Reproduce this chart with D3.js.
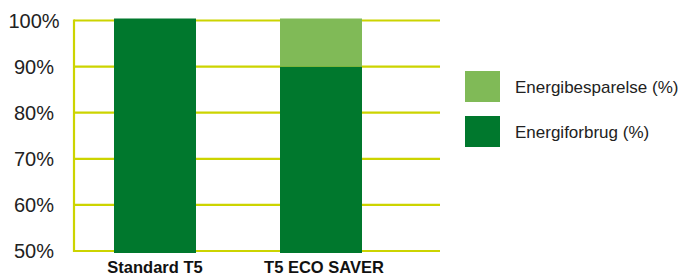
<!DOCTYPE html>
<html>
<head>
<meta charset="utf-8">
<script src="https://cdn.jsdelivr.net/npm/d3@7"></script>
<style>
  body { margin: 0; background: #fff; }
  svg { display: block; font-family: "Liberation Sans", Arial, sans-serif; }
</style>
</head>
<body>
<div id="content"></div>
<script>
const categories = ['Standard T5', 'T5 ECO SAVER'];
const consumption = [100, 90];
const savings = [0, 10];
const ticks = [50, 60, 70, 80, 90, 100];
const seriesNames = ['Energibesparelse (%)', 'Energiforbrug (%)'];

const width = 687;
const height = 275;
const darkGreen = '#00782d';
const lightGreen = '#80ba57';
const gridColor = '#ccd400';

const fig = d3.select('#content')
    .append('svg')
    .attr('width', width)
    .attr('height', height);

const y = d3.scaleLinear()
    .domain([50, 100])
    .range([251, 20.5]);

const barW = 82;
const xc = d3.scaleOrdinal().domain(categories).range([155, 321]);

// gridlines
fig.append('g')
    .selectAll('line')
    .data(ticks)
    .join('line')
    .attr('x1', 74)
    .attr('x2', 440)
    .attr('y1', (d) => y(d))
    .attr('y2', (d) => y(d))
    .attr('stroke', gridColor)
    .attr('stroke-width', 2.2);

fig.append('line')
    .attr('x1', 74)
    .attr('x2', 74)
    .attr('y1', y(100) - 1)
    .attr('y2', y(50) + 1)
    .attr('stroke', gridColor)
    .attr('stroke-width', 2.2);

// tick labels
fig.append('g')
    .selectAll('text')
    .data(ticks)
    .join('text')
    .attr('x', 34)
    .attr('y', (d) => y(d))
    .attr('dy', '0.36em')
    .attr('text-anchor', 'middle')
    .attr('font-size', 20)
    .attr('fill', '#222')
    .text((d) => d + '%');

// bars: consumption
fig.append('g')
    .selectAll('rect')
    .data(categories)
    .join('rect')
    .attr('x', (d) => xc(d) - barW / 2)
    .attr('y', (d, i) => y(consumption[i]) - (i === 0 ? 2 : 0))
    .attr('width', barW)
    .attr('height', (d, i) => y(50) - y(consumption[i]) + 2 + (i === 0 ? 2 : 0))
    .attr('fill', darkGreen);

// bars: savings stacked on top
fig.append('g')
    .selectAll('rect')
    .data(categories.filter((d, i) => savings[i] > 0))
    .join('rect')
    .attr('x', (d) => xc(d) - barW / 2)
    .attr('y', (d) => {
        const i = categories.indexOf(d);
        return y(consumption[i] + savings[i]) - 2;
    })
    .attr('width', barW)
    .attr('height', (d) => {
        const i = categories.indexOf(d);
        return y(consumption[i]) - y(consumption[i] + savings[i]) + 2;
    })
    .attr('fill', lightGreen);

// category labels
fig.append('g')
    .selectAll('text')
    .data(categories)
    .join('text')
    .attr('x', (d, i) => xc(d) + (i === 0 ? 0 : 3))
    .attr('y', 273)
    .attr('text-anchor', 'middle')
    .attr('font-size', 16.5)
    .attr('font-weight', 'bold')
    .attr('fill', '#111')
    .text((d) => d);

// legend
const legend = fig.append('g')
    .selectAll('g')
    .data(seriesNames)
    .join('g')
    .attr('transform', (d, i) => `translate(465, ${71 + i * 45})`);

legend.append('rect')
    .attr('width', 35)
    .attr('height', 31)
    .attr('fill', (d, i) => i === 0 ? lightGreen : darkGreen);

legend.append('text')
    .attr('x', 50)
    .attr('y', 16)
    .attr('dy', '0.36em')
    .attr('font-size', 17)
    .attr('fill', '#222')
    .text((d) => d);
</script>
</body>
</html>
